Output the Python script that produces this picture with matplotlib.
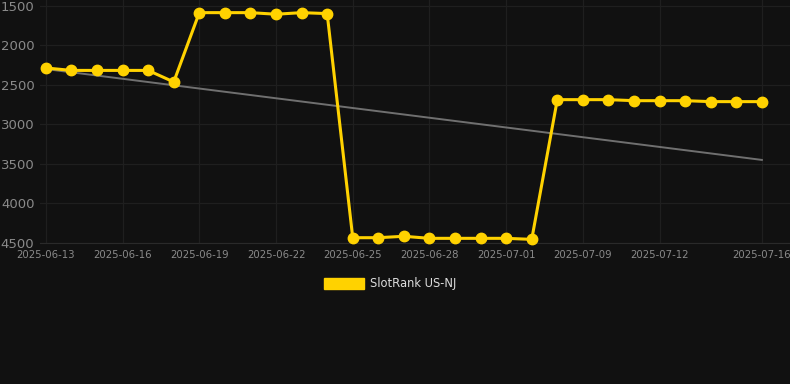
import numpy as np
from matplotlib import pyplot as plt
from matplotlib.patches import Patch

# data
dates = ["2025-06-13", "2025-06-14", "2025-06-15", "2025-06-16", "2025-06-17",
         "2025-06-18", "2025-06-19", "2025-06-20", "2025-06-21", "2025-06-22",
         "2025-06-23", "2025-06-24", "2025-06-25", "2025-06-26", "2025-06-27",
         "2025-06-28", "2025-06-29", "2025-06-30", "2025-07-01", "2025-07-02",
         "2025-07-08", "2025-07-09", "2025-07-10", "2025-07-11", "2025-07-12",
         "2025-07-13", "2025-07-14", "2025-07-15", "2025-07-16"]
ranks = [2285, 2316, 2316, 2316, 2316, 2462, 1585, 1585, 1585, 1605,
         1585, 1597, 4433, 4433, 4415, 4441, 4441, 4441, 4441, 4454,
         2686, 2686, 2686, 2699, 2699, 2699, 2711, 2711, 2711]
tick_idx = [0, 3, 6, 9, 12, 15, 18, 21, 24, 28]
tick_labels = ["2025-06-13", "2025-06-16", "2025-06-19", "2025-06-22", "2025-06-25",
               "2025-06-28", "2025-07-01", "2025-07-09", "2025-07-12", "2025-07-16"]
y_ticks = [1500, 2000, 2500, 3000, 3500, 4000, 4500]

BG = "#111111"
GOLD = "#FFD200"

fig = plt.figure(figsize=(7.9, 3.84), dpi=100, facecolor=BG)
ax = fig.add_axes([40 / 790, 1 - 243 / 384, 750 / 790, 243 / 384])
ax.set_facecolor(BG)

x = np.arange(len(ranks))

# trend line (least squares over the series)
k, b = np.polyfit(x, ranks, 1)
ax.plot(x, k * x + b, color="#707070", linewidth=1.4, zorder=2)

ax.plot(x, ranks, color=GOLD, linewidth=2.2, marker="o", markersize=7.5,
        zorder=3, clip_on=False)

ax.set_xlim(-0.23, 29.1)
ax.set_ylim(4500, 1425)
ax.set_yticks(y_ticks)
ax.set_xticks(tick_idx)
ax.set_xticklabels(tick_labels)

ax.grid(True, color="#1f1f1f", linewidth=0.9)
ax.set_axisbelow(True)
for side in ["top", "right", "left"]:
    ax.spines[side].set_visible(False)
ax.spines["bottom"].set_color("#2a2a2a")
ax.tick_params(axis="y", length=0, pad=4, labelsize=9.5, labelcolor="#8a8a8a")
ax.tick_params(axis="x", length=0, pad=5, labelsize=7.3, labelcolor="#8a8a8a")

fig.legend(handles=[Patch(facecolor=GOLD, edgecolor=GOLD, label="SlotRank US-NJ")],
           loc="center", bbox_to_anchor=(390 / 790, 1 - 284 / 384),
           frameon=False, handlelength=3.5, handleheight=1.1, handletextpad=0.5,
           fontsize=8.3, labelcolor="#dddddd")

fig.savefig("out.png", dpi=100, facecolor=BG)
